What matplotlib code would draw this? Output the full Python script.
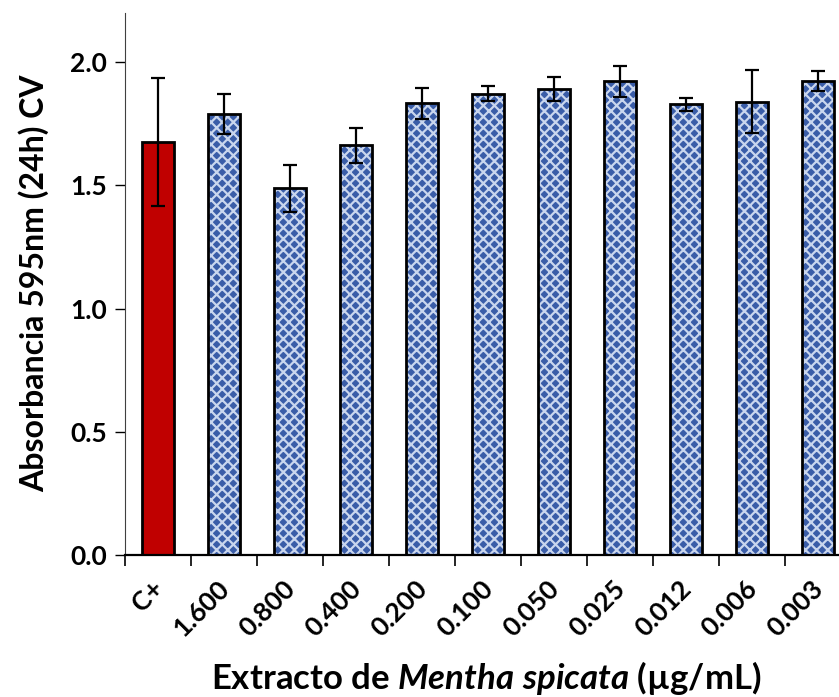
import matplotlib
matplotlib.use("Agg")
import matplotlib.pyplot as plt
import matplotlib.transforms as mtransforms
import numpy as np

categories = ["C+", "1.600", "0.800", "0.400", "0.200", "0.100", "0.050", "0.025", "0.012", "0.006", "0.003"]
values = [1.675, 1.789, 1.488, 1.663, 1.833, 1.872, 1.892, 1.923, 1.829, 1.839, 1.924]
errors = [0.26, 0.082, 0.095, 0.072, 0.062, 0.03, 0.05, 0.062, 0.026, 0.128, 0.04]

FONT = "Lato"
plt.rcParams['font.family'] = [FONT, 'DejaVu Sans']
plt.rcParams['mathtext.fontset'] = 'custom'
plt.rcParams['mathtext.it'] = 'Lato:italic:bold'
plt.rcParams['mathtext.rm'] = 'Lato:bold'
plt.rcParams['hatch.linewidth'] = 1.6

fig = plt.figure(figsize=(8.39, 6.97), dpi=100)
ax = fig.add_axes([125/839, 142/697, 726/839, 542/697])

x = np.arange(len(categories))
w = 0.48
colors = ['#C00000'] + ['#3A5DA8'] * (len(categories) - 1)

for i in range(len(categories)):
    if i == 0:
        ax.bar(x[i], values[i], width=w, color=colors[i], edgecolor='black', linewidth=2, zorder=2)
    else:
        ax.bar(x[i], values[i], width=w, color=colors[i], hatch='xxx', edgecolor='#C9D6EE', linewidth=0, zorder=2)
        ax.bar(x[i], values[i], width=w, facecolor='none', edgecolor='black', linewidth=2, zorder=3)

ax.errorbar(x, values, yerr=errors, fmt='none', ecolor='black', elinewidth=1.6, capsize=5, capthick=1.6, zorder=4)

ax.set_xlim(-0.5, len(categories) - 0.5)
ax.set_ylim(0, 2.2)
ax.set_yticks([0.0, 0.5, 1.0, 1.5, 2.0])
ax.set_yticklabels(["0.0", "0.5", "1.0", "1.5", "2.0"], fontsize=19, fontweight='bold')
ax.set_xticks(x)
ax.set_xticklabels(categories, rotation=45, ha='right', rotation_mode='anchor', fontsize=19, fontweight='bold')
ax.tick_params(axis='x', which='major', length=0, pad=15)
offset = mtransforms.ScaledTranslation(-7/100, 0, fig.dpi_scale_trans)
for lab in ax.get_xticklabels():
    lab.set_transform(lab.get_transform() + offset)
ax.set_xticks(np.arange(-0.5, len(categories), 1.0), minor=True)
ax.tick_params(axis='x', which='minor', length=8, width=1.2, direction='out')
ax.tick_params(axis='y', length=7, width=1.0, direction='out', pad=6)

for s in ['top', 'right']:
    ax.spines[s].set_visible(False)
ax.spines['left'].set_color('#404040')
ax.spines['bottom'].set_color('black')
ax.spines['bottom'].set_linewidth(1.6)

ax.set_ylabel("Absorbancia 595nm (24h) CV", fontsize=23, fontweight='bold')
ax.yaxis.set_label_coords(-0.104, (555 - 283) / 542)
fig.text(486/839, 1 - 689/697, r"Extracto de $Mentha\ spicata$ (µg/mL)", fontsize=25, fontweight='bold', ha='center', va='baseline')

fig.savefig("out.png", dpi=100)
